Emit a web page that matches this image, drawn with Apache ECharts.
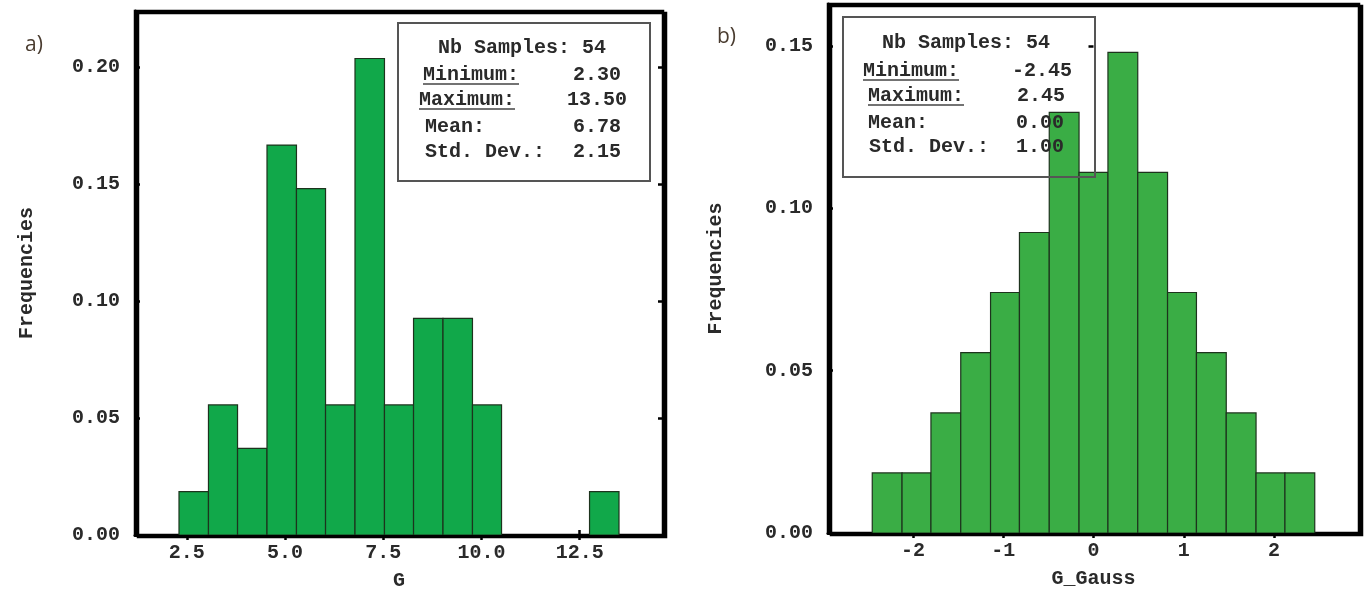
<!DOCTYPE html>
<html>
<head>
<meta charset="utf-8">
<script src="https://cdn.jsdelivr.net/npm/echarts@6/dist/echarts.min.js"></script>
<style>
html,body{margin:0;padding:0;background:#ffffff;}
#chart{width:1367px;height:594px;}
</style>
</head>
<body>
<div id="chart"></div>
<script>
// ---- Data ----
// Panel a) histogram of G : bin edges and relative frequencies
const binEdgesA = [2.30, 3.05, 3.79, 4.54, 5.29, 6.03, 6.78, 7.53, 8.27, 9.02, 9.77, 10.51, 11.26, 12.01, 12.75, 13.50];
const freqA = [0.0185, 0.0556, 0.0370, 0.1667, 0.1481, 0.0556, 0.2037, 0.0556, 0.0926, 0.0926, 0.0556, 0, 0, 0, 0.0185];
// Panel b) histogram of G_Gauss
const binEdgesB = [-2.45, -2.12, -1.80, -1.47, -1.14, -0.82, -0.49, -0.16, 0.16, 0.49, 0.82, 1.14, 1.47, 1.80, 2.12, 2.45];
const freqB = [0.0185, 0.0185, 0.0370, 0.0556, 0.0741, 0.0926, 0.1296, 0.1111, 0.1481, 0.1111, 0.0741, 0.0556, 0.0370, 0.0185, 0.0185];

// Tick values
const xTicksA = [2.5, 5.0, 7.5, 10.0, 12.5];
const xTicksB = [-2, -1, 0, 1, 2];
const yTicksA = [0.00, 0.05, 0.10, 0.15, 0.20];
const yTicksB = [0.00, 0.05, 0.10, 0.15];

// Axis ranges
const xRangeA = [1.18, 14.62];
const yRangeA = [0, 0.224];
const xRangeB = [-2.94, 2.94];
const yRangeB = [0, 0.163];

// Summary statistics boxes
const statsLabels = ['Minimum:', 'Maximum:', 'Mean:', 'Std. Dev.:'];
const underlined = [true, true, false, false];
const statsA = ['2.30', '13.50', '6.78', '2.15'];
const statsB = ['-2.45', '2.45', '0.00', '1.00'];
const nSamplesA = 54;
const nSamplesB = 54;

// Axis titles
const xNameA = 'G';
const xNameB = 'G_Gauss';
const yName = 'Frequencies';

// ---- Build ----
const MONO = '"Liberation Mono", "DejaVu Sans Mono", monospace';

function histData(edges, freqs) {
  return freqs.map((f, i) => [edges[i], edges[i + 1], f]);
}

function makeRender(color) {
  return function (params, api) {
    const x0 = api.value(0), x1 = api.value(1), f = api.value(2);
    if (!f) return null;
    const p0 = api.coord([x0, 0]);
    const p1 = api.coord([x1, f]);
    return {
      type: 'rect',
      shape: { x: p0[0], y: p1[1], width: p1[0] - p0[0], height: p0[1] - p1[1] },
      style: { fill: color, stroke: '#1d331d', lineWidth: 1.2 }
    };
  };
}

const tickStyle = { show: true, inside: true, length: 5, lineStyle: { color: '#000', width: 2.5 } };
const labelStyle = { color: '#2a2a2a', fontFamily: MONO, fontWeight: 'bold', fontSize: 20 };

function xAxisPair(gridIndex, range, ticks, name, fmt) {
  return [
    {
      type: 'value', gridIndex, min: range[0], max: range[1], position: 'bottom',
      splitLine: { show: false },
      axisLine: { show: true, onZero: false, lineStyle: { color: '#000', width: 3 } },
      axisTick: Object.assign({}, tickStyle, { customValues: ticks }),
      axisLabel: Object.assign({}, labelStyle, { customValues: ticks, margin: 8, formatter: fmt }),
      name, nameLocation: 'middle', nameGap: 36,
      nameTextStyle: { color: '#2a2a2a', fontFamily: MONO, fontWeight: 'bold', fontSize: 20 }
    },
    {
      type: 'value', gridIndex, min: range[0], max: range[1], position: 'top',
      splitLine: { show: false },
      axisLine: { show: false },
      axisTick: Object.assign({}, tickStyle, { customValues: ticks }),
      axisLabel: { show: false }
    }
  ];
}

function yAxisPair(gridIndex, range, ticks, nameGap) {
  return [
    {
      type: 'value', gridIndex, min: range[0], max: range[1], interval: 0.05, position: 'left',
      splitLine: { show: false },
      axisLine: { show: true, onZero: false, lineStyle: { color: '#000', width: 3 } },
      axisTick: Object.assign({}, tickStyle, { customValues: ticks }),
      axisLabel: Object.assign({}, labelStyle, { customValues: ticks, margin: 15, formatter: v => v.toFixed(2) }),
      name: yName, nameLocation: 'middle', nameGap, nameRotate: 90,
      nameTextStyle: { color: '#2a2a2a', fontFamily: MONO, fontWeight: 'bold', fontSize: 20 }
    },
    {
      type: 'value', gridIndex, min: range[0], max: range[1], interval: 0.05, position: 'right',
      splitLine: { show: false },
      axisLine: { show: false },
      axisTick: Object.assign({}, tickStyle, { customValues: ticks }),
      axisLabel: { show: false }
    }
  ];
}

function statsBox(box, stats, n, pos, overlay) {
  const els = [];
  els.push({
    type: 'rect', z: overlay ? 100 : 50,
    shape: { x: box.x, y: box.y, width: box.w, height: box.h },
    style: { fill: overlay ? 'rgba(0,0,0,0)' : '#ffffff', stroke: '#555', lineWidth: 2 }
  });
  const ts = { fontFamily: MONO, fontWeight: 'bold', fontSize: 20, fill: '#2a2a2a', textVerticalAlign: 'middle' };
  els.push({ type: 'text', z: 101, style: Object.assign({}, ts, { text: 'Nb Samples: ' + n, x: pos.title[0], y: pos.title[1], textAlign: 'center' }) });
  statsLabels.forEach((lab, i) => {
    els.push({ type: 'text', z: 101, style: Object.assign({}, ts, { text: lab, x: pos.lx[i], y: pos.ry[i], textAlign: 'left' }) });
    els.push({ type: 'text', z: 101, style: Object.assign({}, ts, { text: stats[i], x: pos.vx[i], y: pos.ry[i], textAlign: 'right' }) });
    if (underlined[i]) {
      els.push({
        type: 'line', z: 101,
        shape: { x1: pos.lx[i], y1: pos.ry[i] + 9, x2: pos.lx[i] + lab.length * 12, y2: pos.ry[i] + 9 },
        style: { stroke: '#444', lineWidth: 1.5 }
      });
    }
  });
  return els;
}

const chart = echarts.init(document.getElementById('chart'), null, { renderer: 'canvas' });

const gridCommon = {
  show: true, backgroundColor: '#ffffff', borderColor: '#000', borderWidth: 2.5,
  shadowColor: '#000', shadowBlur: 0, shadowOffsetX: 3, shadowOffsetY: 2,
  containLabel: false, outerBoundsMode: 'none'
};

const option = {
  backgroundColor: '#ffffff',
  animation: false,
  grid: [
    Object.assign({}, gridCommon, { left: 135, top: 11, width: 528, height: 524 }),
    Object.assign({}, gridCommon, { left: 828, top: 4, width: 531, height: 529 })
  ],
  xAxis: [].concat(
    xAxisPair(0, xRangeA, xTicksA, xNameA, v => v.toFixed(1)),
    xAxisPair(1, xRangeB, xTicksB, xNameB, v => String(v))
  ),
  yAxis: [].concat(
    yAxisPair(0, yRangeA, yTicksA, 98),
    yAxisPair(1, yRangeB, yTicksB, 102)
  ),
  series: [
    {
      type: 'custom', xAxisIndex: 0, yAxisIndex: 0,
      renderItem: makeRender('#11a84a'),
      encode: { x: [0, 1], y: 2 },
      data: histData(binEdgesA, freqA), clip: true
    },
    {
      type: 'custom', xAxisIndex: 2, yAxisIndex: 2,
      renderItem: makeRender('#3aad45'),
      encode: { x: [0, 1], y: 2 },
      data: histData(binEdgesB, freqB), clip: true
    }
  ],
  graphic: [].concat(
    statsBox({ x: 398, y: 23, w: 252, h: 158 }, statsA, nSamplesA, {
      title: [522, 48], lx: [423, 419, 425, 425], vx: [621, 627, 621, 621], ry: [75, 100, 127, 152]
    }, false),
    statsBox({ x: 843, y: 17, w: 252, h: 160 }, statsB, nSamplesB, {
      title: [966, 43], lx: [863, 868, 868, 869], vx: [1072, 1065, 1064, 1064], ry: [71, 96, 123, 147]
    }, true),
    [
      { type: 'text', style: { text: 'a)', x: 25, y: 45, textVerticalAlign: 'middle', fontFamily: '"Open Sans", "Noto Sans", sans-serif', fontSize: 21, fill: '#4a3c30' } },
      { type: 'text', style: { text: 'b)', x: 717, y: 37, textVerticalAlign: 'middle', fontFamily: '"Open Sans", "Noto Sans", sans-serif', fontSize: 21, fill: '#4a3c30' } }
    ]
  )
};

chart.setOption(option);
</script>
</body>
</html>
